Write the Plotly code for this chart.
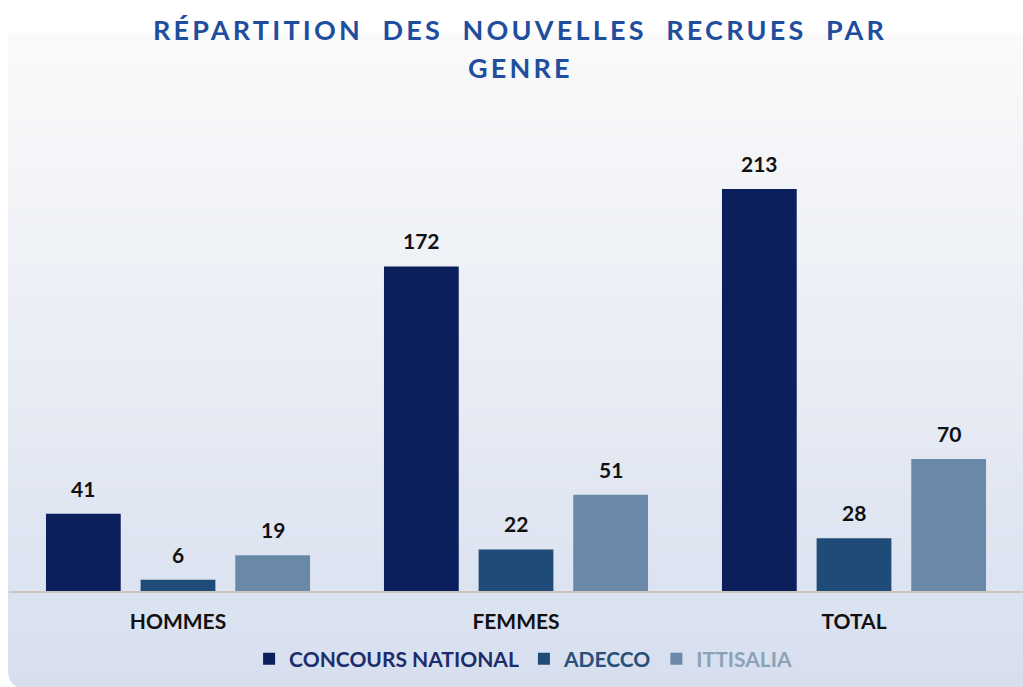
import plotly.graph_objects as go

categories = ["HOMMES", "FEMMES", "TOTAL"]
series_names = ["CONCOURS NATIONAL", "ADECCO", "ITTISALIA"]
concours_national = [41, 172, 213]
adecco = [6, 22, 28]
ittisalia = [19, 51, 70]

title_lines = ["RÉPARTITION  DES  NOUVELLES  RECRUES  PAR", "GENRE"]

bar_colors = ["#0b1f5c", "#1f4b78", "#6a89a8"]
legend_text_colors = ["#1c2d6c", "#26507a", "#8da1b7"]

W, H = 1023, 687
L, R, T, B = 9, 0, 140, 96
PW, PH = W - L - R, H - T - B


def px_x(x):
    return (x - L) / PW


def px_y(y):
    return (H - B - y) / PH


fig = go.Figure()
values = [concours_national, adecco, ittisalia]
for name, vals, col, tcol in zip(series_names, values, bar_colors, legend_text_colors):
    fig.add_trace(go.Bar(
        x=categories, y=vals,
        name=f"<span style='color:{tcol}'><b>{name}</b></span>",
        marker=dict(color=col, line=dict(width=0)),
        hoverinfo="skip",
    ))

# value labels
slot_px = PW / 3 * (1 - 0.16) / 3
for i, vals in enumerate(values):
    for cat, v in zip(categories, vals):
        fig.add_annotation(
            x=cat, y=v, xref="x", yref="y", text=f"<b>{v}</b>",
            showarrow=False, yanchor="bottom", xshift=(i - 1) * slot_px, yshift=11,
            font=dict(family="Lato", size=21, color="#111111"),
        )

# title as two centered lines
for line, yc in zip(title_lines, [29, 68]):
    fig.add_annotation(
        x=px_x(520), y=px_y(yc), xref="paper", yref="paper",
        text=f"<span style='letter-spacing:3.2px'><b>{line}</b></span>",
        showarrow=False, xanchor="center", yanchor="middle",
        font=dict(family="Lato", size=27, color="#1f4e9e"),
    )

# background card with vertical gradient
shapes = []
top_y, bot_y = 33, 687
n = 90
c0 = (250, 250, 250)
c1 = (215, 223, 239)
for k in range(n):
    y0 = top_y + (bot_y - top_y) * k / n
    y1 = top_y + (bot_y - top_y) * (k + 1) / n + 1
    f = k / (n - 1)
    c = tuple(round(a + (b - a) * f) for a, b in zip(c0, c1))
    shapes.append(dict(
        type="rect", xref="paper", yref="paper", layer="below",
        x0=px_x(8), x1=px_x(W + 5), y0=px_y(y0), y1=px_y(min(y1, bot_y + 5)),
        fillcolor=f"rgb{c}", line=dict(width=0),
    ))
# rounded bottom-left corner (white mask)
rr = 16
shapes.append(dict(
    type="path", xref="paper", yref="paper", layer="below",
    path=(f"M {px_x(7)},{px_y(H - rr)} L {px_x(7)},{px_y(H + 2)} L {px_x(8 + rr)},{px_y(H + 2)} "
          f"Q {px_x(8)},{px_y(H)} {px_x(8)},{px_y(H - rr)} Z"),
    fillcolor="white", line=dict(width=0),
))

fig.update_layout(
    width=W, height=H,
    margin=dict(l=L, r=R, t=T, b=B),
    paper_bgcolor="white",
    plot_bgcolor="rgba(0,0,0,0)",
    barmode="group", bargap=0.16, bargroupgap=0.21,
    shapes=shapes,
    showlegend=True,
    legend=dict(
        orientation="h", x=0.507, xanchor="center", y=px_y(659), yanchor="middle",
        font=dict(family="Lato", size=21), bgcolor="rgba(0,0,0,0)",
        itemwidth=30, traceorder="normal",
    ),
    xaxis=dict(
        showline=True, linecolor="#cbc4bd", linewidth=1.5,
        ticks="outside", ticklen=11, tickcolor="rgba(0,0,0,0)",
        tickfont=dict(family="Lato", size=21, color="#111111"),
        tickprefix="<b>", ticksuffix="</b>",
        showgrid=False, zeroline=False,
    ),
    yaxis=dict(
        range=[0, 239], visible=False, showgrid=False, zeroline=False,
    ),
)

fig.write_html(
    "out.html",
    config={"displayModeBar": False},
    post_script="document.body.style.margin='0';document.body.style.overflow='hidden';",
)
